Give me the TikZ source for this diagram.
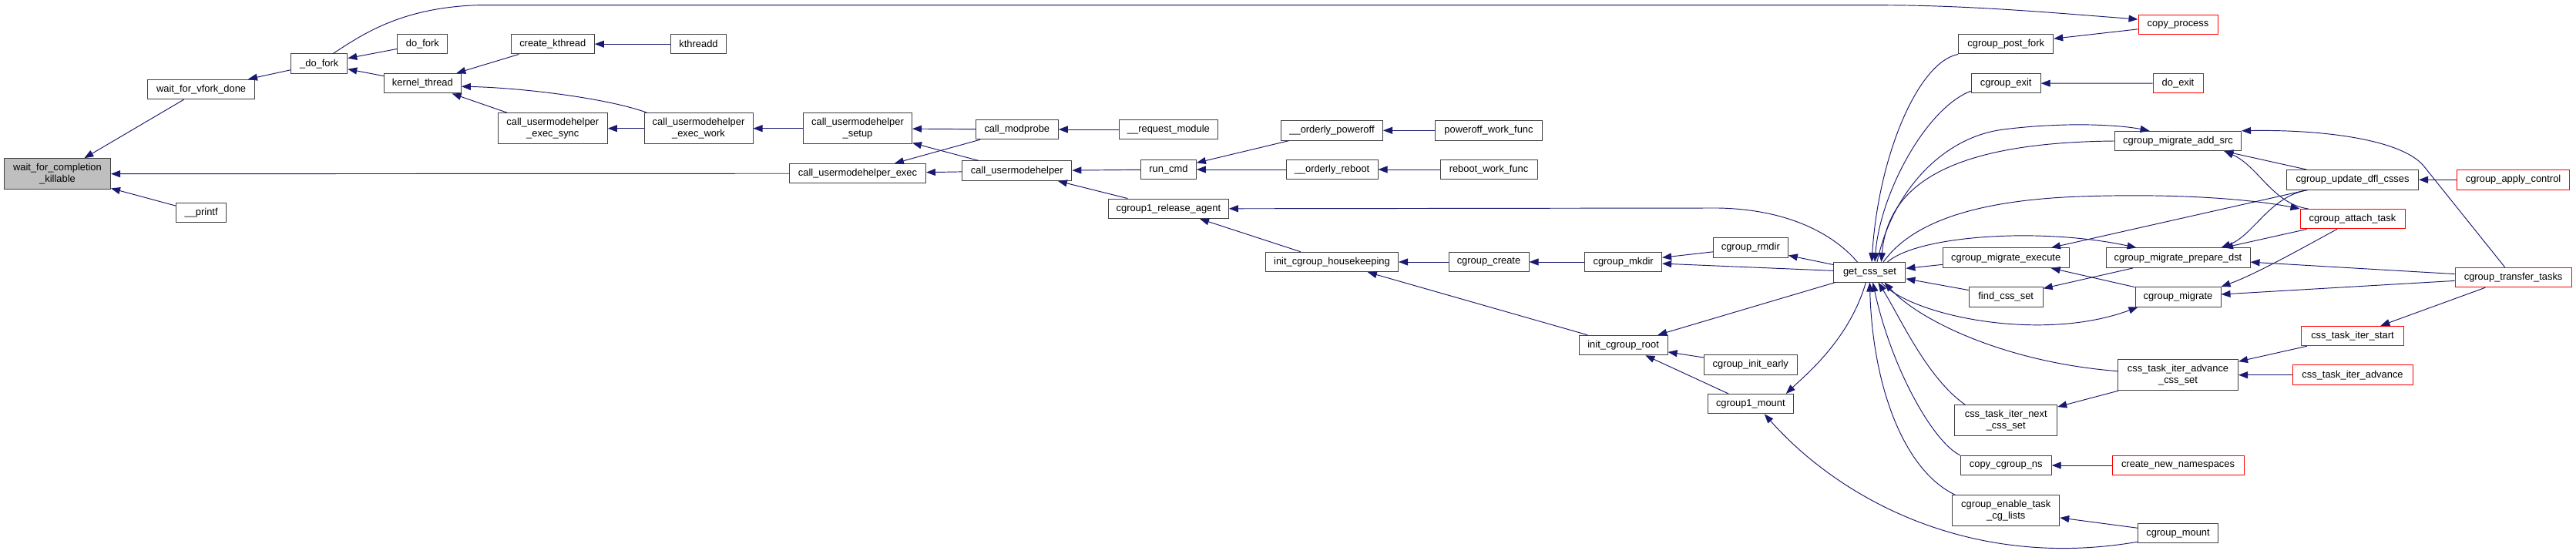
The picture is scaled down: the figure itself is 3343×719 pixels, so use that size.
\documentclass[tikz,border=0pt]{standalone}
\usepackage{fontspec}
\setmainfont{Liberation Sans}
\usepackage{tikz}
\usetikzlibrary{arrows.meta,calc}
\definecolor{edgec}{HTML}{191970}
\definecolor{framec}{HTML}{404040}
\definecolor{truncc}{HTML}{FF0000}
\definecolor{rootc}{HTML}{BFBFBF}

\begin{document}
\begin{tikzpicture}[x=1pt,y=1pt,font=\fontsize{12.9}{15}\selectfont,>={Triangle[length=12pt,width=9pt]},fn/.style={draw=#1,fill=white,line width=1pt,inner sep=0pt,minimum height=25.5pt,align=center},fn/.default=framec,two/.style={minimum height=40pt},arr/.style={<-,line width=0.95pt,draw=edgec}]
\useasboundingbox (0,0) rectangle (3343,-719);
\node[fn,fill=rootc,two,minimum width=138pt] (wfck) at (74.5,-225.7) {wait\_for\_completion\\\_killable};
\node[fn,minimum width=139pt] (vforkdone) at (261.1,-116) {wait\_for\_vfork\_done};
\node[fn,minimum width=65pt] (printf) at (261.1,-276) {\_\_printf};
\node[fn,minimum width=73pt] (udofork) at (414.3,-82.7) {\_do\_fork};
\node[fn,minimum width=65pt] (dofork) at (548.4,-57.2) {do\_fork};
\node[fn,minimum width=100pt] (kthread) at (548.4,-108.2) {kernel\_thread};
\node[fn,minimum width=108pt] (createkt) at (717.3,-57.2) {create\_kthread};
\node[fn,two,minimum width=142pt] (umhsync) at (717.3,-166.7) {call\_usermodehelper\\\_exec\_sync};
\node[fn,minimum width=72pt] (kthreadd) at (906.5,-57.2) {kthreadd};
\node[fn,two,minimum width=141pt] (umhwork) at (906.5,-166.7) {call\_usermodehelper\\\_exec\_work};
\node[fn,two,minimum width=141pt] (umhsetup) at (1113,-166.7) {call\_usermodehelper\\\_setup};
\node[fn,minimum width=177pt] (umhexec) at (1113,-225.2) {call\_usermodehelper\_exec};
\node[fn,minimum width=107pt] (modprobe) at (1319.8,-168) {call\_modprobe};
\node[fn,minimum width=142pt] (umh) at (1319.8,-221.7) {call\_usermodehelper};
\node[fn,minimum width=128pt] (reqmod) at (1516.4,-168) {\_\_request\_module};
\node[fn,minimum width=72pt] (runcmd) at (1516.4,-220) {run\_cmd};
\node[fn,minimum width=156pt] (relagent) at (1516.4,-270.8) {cgroup1\_release\_agent};
\node[fn,minimum width=132pt] (opoweroff) at (1728.5,-169.3) {\_\_orderly\_poweroff};
\node[fn,minimum width=119pt] (oreboot) at (1728.5,-220) {\_\_orderly\_reboot};
\node[fn,minimum width=172pt] (housekeep) at (1728.5,-340) {init\_cgroup\_housekeeping};
\node[fn,minimum width=139pt] (poweroffwf) at (1932,-169.3) {poweroff\_work\_func};
\node[fn,minimum width=126pt] (rebootwf) at (1932,-220) {reboot\_work\_func};
\node[fn,minimum width=104pt] (cgcreate) at (1932,-340) {cgroup\_create};
\node[fn,minimum width=100pt] (cgmkdir) at (2106.6,-340) {cgroup\_mkdir};
\node[fn,minimum width=115pt] (cgroot) at (2106.6,-448) {init\_cgroup\_root};
\node[fn,minimum width=97pt] (cgrmdir) at (2271.8,-321.3) {cgroup\_rmdir};
\node[fn,minimum width=121pt] (cginit) at (2271.8,-473.3) {cgroup\_init\_early};
\node[fn,minimum width=111pt] (cgmountone) at (2271.8,-524.2) {cgroup1\_mount};
\node[fn,minimum width=93pt] (getcss) at (2426.4,-353.3) {get\_css\_set};
\node[fn,minimum width=123pt] (postfork) at (2603.2,-57.2) {cgroup\_post\_fork};
\node[fn,minimum width=90pt] (cgexit) at (2603.2,-108.2) {cgroup\_exit};
\node[fn,minimum width=164pt] (migexec) at (2603.2,-334.7) {cgroup\_migrate\_execute};
\node[fn,minimum width=96pt] (findcss) at (2603.2,-385.3) {find\_css\_set};
\node[fn,two,minimum width=133pt] (itnext) at (2603.2,-545.7) {css\_task\_iter\_next\\\_css\_set};
\node[fn,minimum width=118pt] (copyns) at (2603.2,-604) {copy\_cgroup\_ns};
\node[fn,two,minimum width=139pt] (enablecg) at (2603.2,-662.7) {cgroup\_enable\_task\\\_cg\_lists};
\node[fn=truncc,minimum width=103pt] (copyproc) at (2826.5,-32) {copy\_process};
\node[fn=truncc,minimum width=65pt] (doexit) at (2826.5,-108) {do\_exit};
\node[fn,minimum width=164pt] (addsrc) at (2826.5,-183) {cgroup\_migrate\_add\_src};
\node[fn,minimum width=187pt] (prepdst) at (2826.5,-334.7) {cgroup\_migrate\_prepare\_dst};
\node[fn,minimum width=111pt] (migrate) at (2826.5,-385.3) {cgroup\_migrate};
\node[fn,two,minimum width=156pt] (itadvset) at (2826.5,-486.7) {css\_task\_iter\_advance\\\_css\_set};
\node[fn=truncc,minimum width=171pt] (newns) at (2826.5,-604) {create\_new\_namespaces};
\node[fn,minimum width=104pt] (cgmount) at (2826.5,-692.2) {cgroup\_mount};
\node[fn,minimum width=171pt] (updfl) at (3053,-233.3) {cgroup\_update\_dfl\_csses};
\node[fn=truncc,minimum width=136pt] (attach) at (3053,-284.2) {cgroup\_attach\_task};
\node[fn=truncc,minimum width=133pt] (itstart) at (3053,-436) {css\_task\_iter\_start};
\node[fn=truncc,minimum width=156pt] (itadv) at (3053,-486.7) {css\_task\_iter\_advance};
\node[fn=truncc,minimum width=146pt] (applyctl) at (3261.6,-233.3) {cgroup\_apply\_control};
\node[fn=truncc,minimum width=151pt] (transfer) at (3261.6,-360) {cgroup\_transfer\_tasks};
\foreach \a/\b in {wfck/vforkdone,wfck/umhexec,wfck/printf,vforkdone/udofork,udofork/dofork,udofork/kthread,kthread/createkt,kthread/umhsync,createkt/kthreadd,umhsync/umhwork,umhwork/umhsetup,umhsetup/modprobe,umhsetup/umh,umhexec/modprobe,umhexec/umh,modprobe/reqmod,umh/runcmd,umh/relagent,runcmd/opoweroff,runcmd/oreboot,opoweroff/poweroffwf,oreboot/rebootwf,relagent/housekeep,housekeep/cgcreate,cgcreate/cgmkdir,housekeep/cgroot,cgmkdir/cgrmdir,cgmkdir/getcss,cgrmdir/getcss,cgroot/getcss,cgroot/cginit,cgroot/cgmountone,getcss/migexec,getcss/findcss,migexec/updfl,findcss/prepdst,migexec/migrate,itnext/itadvset,copyns/newns,enablecg/cgmount,cgexit/doexit,postfork/copyproc,updfl/applyctl,addsrc/updfl,prepdst/attach,prepdst/transfer,migrate/transfer,itstart/transfer,itadvset/itstart,itadvset/itadv} \draw[arr] (\a)--(\b);
\draw[arr,->] ($(udofork.north)+(18,0)$) .. controls (470,-45) and (520,-10) .. (620,-6.7) -- (2440,-6.7) .. controls (2560,-6.7) and (2680,-18) .. ($(copyproc.west)+(0,7)$);
\draw[arr] ($(kthread.east)+(0,-4)$) .. controls (680,-114) and (790,-128) .. ($(umhwork.north west)+(4,0)$);
\draw[arr] (relagent.east) -- (2230,-270) .. controls (2330,-272) and (2385,-310) .. ($(getcss.north)+(-16,0)$);
\draw[arr] ($(cgmountone.north east)+(-10,0)$) .. controls (2345,-485) and (2400,-440) .. ($(getcss.south)+(-5,0)$);
\draw[arr] ($(getcss.north)+(2.6,0)$) .. controls (2438,-200) and (2490,-80) .. (postfork.south west);
\draw[arr] ($(getcss.north)+(6.6,0)$) .. controls (2440,-250) and (2500,-140) .. ($(cgexit.west)+(0,-10)$);
\draw[arr] ($(addsrc.north)+(-37,0)$) .. controls (2750,-162) and (2680,-158) .. (2600,-168) .. controls (2520,-178) and (2455,-250) .. ($(getcss.north)+(9.6,0)$);
\draw[arr] ($(getcss.north)+(15,0)$) .. controls (2450,-240) and (2530,-185) .. (addsrc.west);
\draw[arr] (attach.north west) .. controls (2940,-262) and (2850,-250) .. (2700,-255) .. controls (2560,-260) and (2480,-290) .. ($(getcss.north)+(17.6,0)$);
\draw[arr] ($(prepdst.north)+(-54,0)$) .. controls (2650,-295) and (2490,-305) .. ($(getcss.north)+(23,0)$);
\draw[arr] ($(migrate.south west)+(4,0)$) .. controls (2650,-445) and (2480,-410) .. ($(getcss.south)+(15,0)$);
\draw[arr] ($(getcss.south)+(19,0)$) .. controls (2490,-415) and (2600,-470) .. ($(itadvset.west)+(0,5)$);
\draw[arr] ($(getcss.south)+(11,0)$) .. controls (2465,-410) and (2500,-490) .. ($(itnext.north west)+(14,0)$);
\draw[arr] ($(getcss.south)+(4,0)$) .. controls (2455,-480) and (2510,-575) .. (copyns.north west);
\draw[arr] (getcss.south) .. controls (2430,-500) and (2470,-610) .. ($(enablecg.north west)+(4,0)$);
\draw[arr] ($(cgmountone.south)+(18,0)$) .. controls (2390,-650) and (2560,-740) .. ($(cgmount.west)+(0,-11)$);
\draw[arr] ($(addsrc.south)+(60,0)$) .. controls (2930,-215) and (2950,-265) .. ($(attach.north west)+(11,0)$);
\draw[arr] (addsrc.north east) .. controls (3010,-168) and (3115,-180) .. (3145,-215) -- ($(transfer.north)+(-11,0)$);
\draw[arr] ($(prepdst.north)+(56,0)$) .. controls (2925,-305) and (2945,-255) .. ($(updfl.south west)+(28,0)$);
\draw[arr] (migrate.north east) .. controls (2930,-355) and (3000,-315) .. ($(attach.south)+(-20,0)$);
\end{tikzpicture}
\end{document}
